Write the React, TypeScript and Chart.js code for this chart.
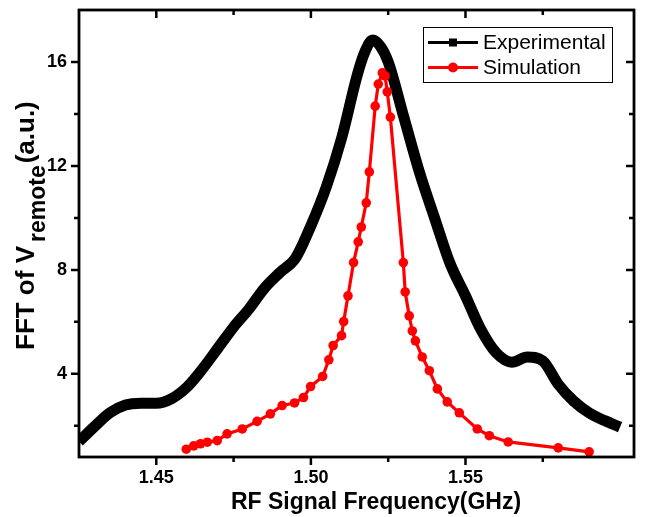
import React, { useEffect, useRef } from "react";
import { Chart, registerables } from "chart.js";

Chart.register(...registerables);

// ---- data ----
const experimentalFreq = [
  1.425, 1.43, 1.435, 1.44, 1.445, 1.45, 1.455, 1.46, 1.465, 1.47, 1.475, 1.48,
  1.485, 1.49, 1.495, 1.5, 1.505, 1.51, 1.515, 1.5175, 1.52, 1.5225, 1.525, 1.53,
  1.535, 1.54, 1.545, 1.55, 1.555, 1.56, 1.565, 1.57, 1.575, 1.58, 1.585, 1.59,
  1.595, 1.6,
];
const experimentalFFT = [
  1.4, 1.97, 2.5, 2.8, 2.87, 2.87, 3.05, 3.5, 4.2, 5.0, 5.8, 6.5,
  7.3, 7.9, 8.45, 9.7, 11.2, 13.1, 15.5, 16.4, 16.85, 16.6, 16.0, 13.9,
  11.8, 10.0, 8.25, 7.0, 5.7, 4.8, 4.45, 4.65, 4.5, 3.6, 2.95, 2.5,
  2.2, 1.95,
];

const simulationFreq = [
  1.4597, 1.4621, 1.4643, 1.4665, 1.4697, 1.4729, 1.4778, 1.4826, 1.4869, 1.4907,
  1.4947, 1.4976, 1.4999, 1.5038, 1.5058, 1.5072, 1.5099, 1.5106, 1.512, 1.5138,
  1.5153, 1.5163, 1.5179, 1.5189, 1.5208, 1.5218, 1.5231, 1.524, 1.5247, 1.5257,
  1.5299, 1.5305, 1.5318, 1.5328, 1.5338, 1.536, 1.5383, 1.5409, 1.5441, 1.548,
  1.5538, 1.5577, 1.5638, 1.58, 1.59,
];
const simulationFFT = [
  1.1, 1.23, 1.31, 1.37, 1.43, 1.69, 1.88, 2.17, 2.46, 2.78,
  2.88, 3.09, 3.51, 3.9, 4.54, 5.09, 5.47, 6.01, 7.0, 8.28,
  9.08, 9.65, 10.58, 11.77, 14.3, 15.15, 15.58, 15.46, 14.85, 13.88,
  8.28, 7.15, 6.23, 5.65, 5.27, 4.65, 4.12, 3.42, 2.92, 2.5,
  1.88, 1.62, 1.38, 1.15, 1.0,
];

const seriesNames = ["Experimental", "Simulation"];
const xLabelTicks = [1.45, 1.5, 1.55, 1.6];
const yLabelTicks = [4, 8, 12, 16];
const xTitle = "RF Signal Frequency(GHz)";
const yTitleMain = "FFT of V";
const yTitleSub = "remote";
const yTitleEnd = "(a.u.)";

const FONT = "'Liberation Sans', Arial, sans-serif";

const isLabelTick = (list: number[], v: number) =>
  list.some((t) => Math.abs(t - v) < 1e-6);

const decorPlugin = {
  id: "decor",
  afterDatasetsDraw(chart: any) {
    const { ctx, chartArea: a, scales } = chart;
    const xs = scales.x;
    const ys = scales.y;
    const eps = 1e-6;
    ctx.save();
    ctx.strokeStyle = "#000";
    ctx.lineWidth = 2.5;
    ctx.lineCap = "butt";
    ctx.beginPath();
    xs.ticks.forEach((t: any) => {
      if (t.value <= xs.min + eps || t.value >= xs.max - eps) return;
      const p = xs.getPixelForValue(t.value);
      const len = isLabelTick(xLabelTicks, t.value) ? 8 : 5;
      ctx.moveTo(p, a.bottom);
      ctx.lineTo(p, a.bottom + len);
      ctx.moveTo(p, a.top);
      ctx.lineTo(p, a.top + len);
    });
    ys.ticks.forEach((t: any) => {
      if (t.value <= ys.min + eps || t.value >= ys.max - eps) return;
      const p = ys.getPixelForValue(t.value);
      const len = isLabelTick(yLabelTicks, t.value) ? 8 : 5;
      ctx.moveTo(a.left - len, p);
      ctx.lineTo(a.left, p);
      ctx.moveTo(a.right - len, p);
      ctx.lineTo(a.right, p);
    });
    ctx.stroke();
    ctx.lineWidth = 2.8;
    ctx.lineJoin = "miter";
    ctx.strokeRect(a.left, a.top, a.right - a.left, a.bottom - a.top);
    ctx.restore();
  },
  afterDraw(chart: any) {
    const { ctx } = chart;
    ctx.save();
    ctx.fillStyle = "#000";
    // x title
    ctx.font = `bold 23px ${FONT}`;
    ctx.textAlign = "center";
    ctx.textBaseline = "alphabetic";
    ctx.fillText(xTitle, 376, 509);
    // y title (rotated, with subscript)
    ctx.translate(34, 350);
    ctx.rotate(-Math.PI / 2);
    ctx.textAlign = "left";
    ctx.font = `bold 26px ${FONT}`;
    ctx.fillText(yTitleMain, 0, 0);
    let w = ctx.measureText(yTitleMain).width + 4;
    ctx.font = `bold 23px ${FONT}`;
    ctx.fillText(yTitleSub, w, 11);
    w += ctx.measureText(yTitleSub).width + 2;
    ctx.font = `bold 26px ${FONT}`;
    ctx.fillText(yTitleEnd, w, 0);
    ctx.restore();

    // legend
    const box = { x: 423, y: 27, w: 189, h: 55 };
    ctx.save();
    ctx.fillStyle = "#fff";
    ctx.fillRect(box.x, box.y, box.w, box.h);
    ctx.strokeStyle = "#000";
    ctx.lineWidth = 1;
    ctx.strokeRect(box.x + 0.5, box.y + 0.5, box.w, box.h);
    const rows = [42.5, 67.5];
    chart.data.datasets.forEach((ds: any) => {
      const y = rows[ds.legendIndex];
      ctx.strokeStyle = ds.borderColor;
      ctx.lineWidth = 3;
      ctx.beginPath();
      ctx.moveTo(428, y);
      ctx.lineTo(478, y);
      ctx.stroke();
      ctx.fillStyle = ds.borderColor;
      if (ds.legendMarker === "rect") {
        ctx.fillRect(449, y - 4, 8, 8);
      } else {
        ctx.beginPath();
        ctx.arc(453, y, 5, 0, Math.PI * 2);
        ctx.fill();
      }
      ctx.fillStyle = "#000";
      ctx.font = `21px ${FONT}`;
      ctx.textAlign = "left";
      ctx.textBaseline = "middle";
      ctx.fillText(ds.label, 483, y + 1);
    });
    ctx.restore();
  },
};

export default function App() {
  const ref = useRef<HTMLCanvasElement | null>(null);
  useEffect(() => {
    if (!ref.current) return;
    const chart = new Chart(ref.current, {
      type: "line",
      data: {
        datasets: [
          {
            label: seriesNames[0],
            legendIndex: 0,
            legendMarker: "rect",
            data: experimentalFreq.map((x, i) => ({ x, y: experimentalFFT[i] })),
            borderColor: "#000000",
            backgroundColor: "#000000",
            borderWidth: 11,
            pointRadius: 0,
            cubicInterpolationMode: "monotone",
            fill: false,
            clip: 0,
            order: 2,
          } as any,
          {
            label: seriesNames[1],
            legendIndex: 1,
            legendMarker: "circle",
            data: simulationFreq.map((x, i) => ({ x, y: simulationFFT[i] })),
            borderColor: "#ff0000",
            backgroundColor: "#ff0000",
            borderWidth: 3.2,
            pointRadius: 4.8,
            pointBorderWidth: 0,
            pointStyle: "circle",
            tension: 0,
            fill: false,
            order: 1,
          } as any,
        ],
      },
      options: {
        animation: false,
        responsive: false,
        events: [],
        layout: { padding: { left: 0, right: 17, top: 10, bottom: 0 } },
        plugins: {
          legend: { display: false },
          tooltip: { enabled: false },
          title: { display: false },
        },
        scales: {
          x: {
            type: "linear",
            min: 1.425,
            max: 1.6045,
            afterFit: (s: any) => {
              s.height = 60;
              s.paddingLeft = 0;
              s.paddingRight = 0;
            },
            grid: { display: false, drawTicks: false },
            border: { display: false },
            ticks: {
              stepSize: 0.025,
              autoSkip: false,
              maxRotation: 0,
              padding: 10,
              color: "#000",
              font: { family: FONT, size: 18, weight: "bold" },
              callback: (v: any) =>
                isLabelTick(xLabelTicks, Number(v)) ? Number(v).toFixed(2) : "",
            },
          },
          y: {
            type: "linear",
            min: 0.8,
            max: 18,
            afterFit: (s: any) => {
              s.width = 79;
              s.paddingTop = 0;
              s.paddingBottom = 0;
            },
            grid: { display: false, drawTicks: false },
            border: { display: false },
            ticks: {
              stepSize: 2,
              autoSkip: false,
              padding: 12,
              color: "#000",
              font: { family: FONT, size: 18, weight: "bold" },
              callback: (v: any) =>
                isLabelTick(yLabelTicks, Number(v)) ? String(Math.round(Number(v))) : "",
            },
          },
        },
      } as any,
      plugins: [decorPlugin],
    });
    return () => chart.destroy();
  }, []);
  return (
    <div style={{ position: "absolute", left: 0, top: 0, width: 651, height: 517, background: "#fff" }}>
      <canvas ref={ref} width={651} height={517} style={{ display: "block" }} />
    </div>
  );
}
